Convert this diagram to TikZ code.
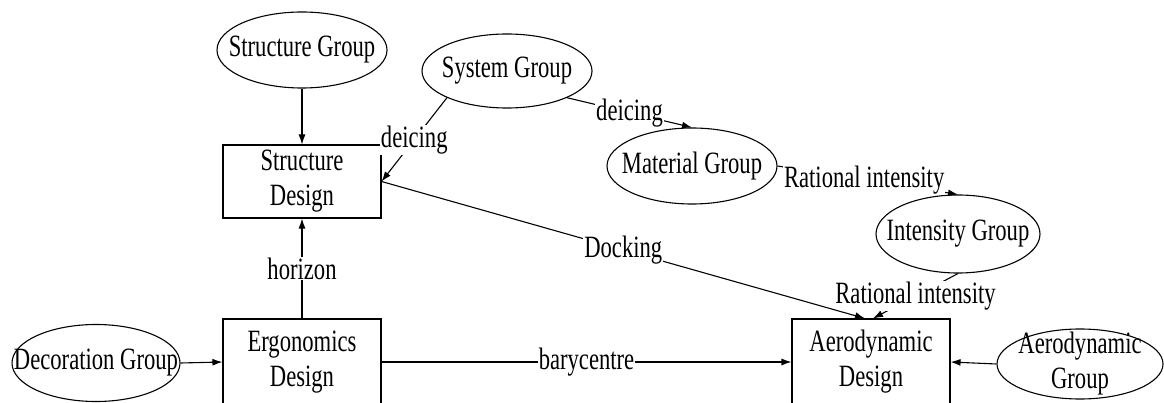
\documentclass[tikz,border=0pt]{standalone}
\usepackage{fontspec}
\usetikzlibrary{shapes.geometric,arrows.meta}
\newfontfamily\narrowserif{Liberation Serif}[FakeStretch=0.73]

\tikzset{
  every node/.style={font=\narrowserif\fontsize{31}{35}\selectfont, align=center},
  % ellipse size is fixed by its minimum width/height alone
  group/.style={draw, ellipse, inner sep=-60pt, line width=1.1pt},
  design/.style={draw, rectangle, inner sep=0pt, minimum width=158pt, line width=1.1pt},
  link/.style={line width=1.1pt},
  flow/.style={link, -{Latex[length=10pt,width=7pt]}},
  tag/.style={fill=white, inner sep=1pt}
}

\begin{document}
\begin{tikzpicture}[x=1pt, y=-1pt]
  \path[use as bounding box, clip] (0,0) rectangle (1164,403);

  % groups
  \node[group, minimum width=170pt, minimum height=76pt] (sg)   at (302,50)  {Structure Group};
  \node[group, minimum width=170pt, minimum height=74pt] (sysg) at (507,71)  {System Group};
  \node[group, minimum width=170pt, minimum height=76pt] (mg)   at (692,166) {Material Group};
  \node[group, minimum width=164pt, minimum height=78pt] (ig)   at (958,234) {Intensity Group};
  \node[group, minimum width=168pt, minimum height=77pt] (dg)   at (96,363)  {Decoration Group};
  \node[group, minimum width=166pt, minimum height=70pt] (ag)   at (1080,364) {Aerodynamic\\Group};

  % design boxes
  \node[design, minimum height=73pt] (sd) at (302,181.5) {Structure\\Design};
  \node[design, minimum height=86pt] (ed) at (302,362)   {Ergonomics\\Design};
  \node[design, minimum height=86pt] (ad) at (871,362)   {Aerodynamic\\Design};

  % connectors
  \draw[flow] (sg.south) -- (sd.north);
  \draw[flow] (sysg.204) -- node[tag] {deicing} (sd.east);
  \draw[flow] (sysg.336) -- node[tag] {deicing} (mg.north);
  \draw[flow] (mg.east) -- node[tag, pos=0.48] {Rational intensity} (ig.north);
  \draw[flow] (ig.south) -- node[tag] {Rational intensity} ([xshift=2pt]ad.north);
  \draw[flow] (sd.east) -- node[tag] {Docking} ([xshift=-6pt]ad.north);
  \draw[flow] (ed.north) -- node[tag] {horizon} (sd.south);
  \draw[flow] (dg.east) -- (ed.west);
  \draw[flow] (ed.east) -- node[tag] {barycentre} (ad.west);
  \draw[flow] (ag.west) -- (ad.east);
\end{tikzpicture}
\end{document}
